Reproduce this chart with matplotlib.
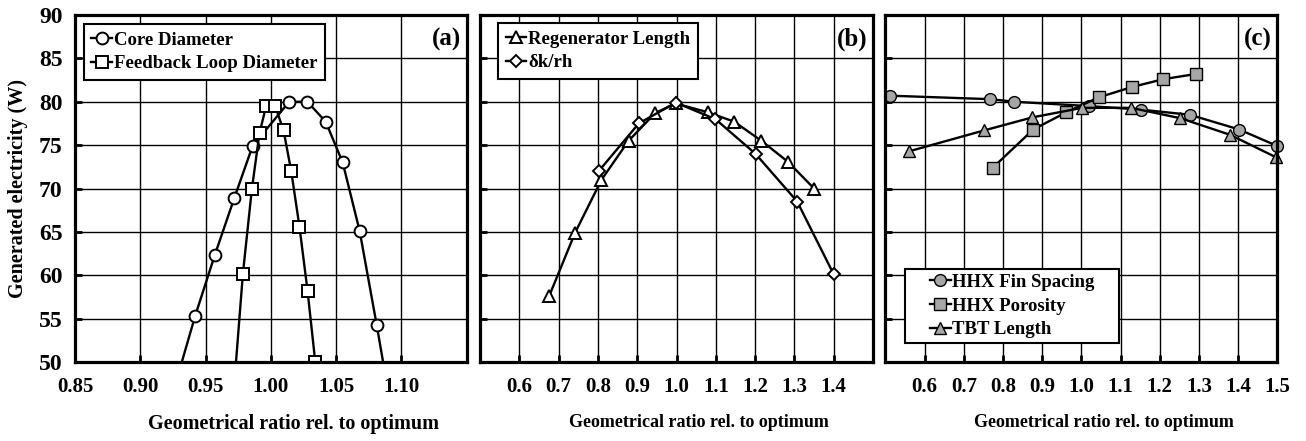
import numpy as np
import matplotlib
matplotlib.use('Agg')
import matplotlib.pyplot as plt
from matplotlib.patches import Rectangle

plt.rcParams['font.family'] = ['Liberation Serif', 'DejaVu Serif']
plt.rcParams['font.weight'] = 'bold'

# panel (a)
core_x = [0.927, 0.942, 0.957, 0.972, 0.986, 1.014, 1.028, 1.042, 1.055, 1.068, 1.081, 1.094]
core_y = [47.5, 55.3, 62.3, 68.9, 74.9, 80.0, 80.0, 77.7, 73.0, 65.1, 54.3, 43.0]
loop_x = [0.972, 0.9786, 0.9855, 0.9913, 0.9964, 1.0033, 1.0097, 1.0156, 1.0219, 1.0281, 1.034]
loop_y = [47.5, 60.2, 70.0, 76.4, 79.5, 79.5, 76.7, 72.0, 65.6, 58.2, 50.0]

# panel (b)
regen_x = [0.676, 0.742, 0.809, 0.878, 0.946, 0.998, 1.079, 1.147, 1.216, 1.283, 1.350]
regen_y = [57.6, 64.9, 71.0, 75.5, 78.7, 79.8, 78.8, 77.7, 75.5, 73.1, 70.0]
dk_x = [0.802, 0.904, 0.998, 1.099, 1.201, 1.307, 1.400]
dk_y = [72.0, 77.5, 79.9, 78.0, 74.0, 68.5, 60.1]

# panel (c)
fin_x = [0.511, 0.767, 0.829, 1.020, 1.151, 1.277, 1.403, 1.500]
fin_y = [80.7, 80.3, 80.0, 79.5, 79.1, 78.5, 76.8, 74.9]
por_x = [0.774, 0.877, 0.962, 1.044, 1.129, 1.209, 1.292]
por_y = [72.4, 76.8, 78.8, 80.5, 81.7, 82.6, 83.2]
tbt_x = [0.561, 0.752, 0.875, 1.002, 1.127, 1.253, 1.379, 1.497]
tbt_y = [74.3, 76.7, 78.2, 79.3, 79.3, 78.1, 76.2, 73.6]

xticks_a = [0.85, 0.90, 0.95, 1.00, 1.05, 1.10]
xticks_b = [0.6, 0.7, 0.8, 0.9, 1.0, 1.1, 1.2, 1.3, 1.4]
xticks_c = [0.6, 0.7, 0.8, 0.9, 1.0, 1.1, 1.2, 1.3, 1.4, 1.5]
yticks = [50, 55, 60, 65, 70, 75, 80, 85, 90]

fig = plt.figure(figsize=(13.06, 4.41), dpi=100)
bot, h = 0.179, 0.787
ax_a = fig.add_axes([0.0574, bot, 0.300, h])
ax_b = fig.add_axes([0.3675, bot, 0.301, h])
ax_c = fig.add_axes([0.678, bot, 0.300, h])

lw = 1.7
white = dict(color='black', lw=lw, mfc='white', mec='black', mew=1.4)
grey = dict(color='black', lw=lw, mfc='#a6a6a6', mec='black', mew=1.0)

ax_a.plot(core_x, core_y, marker='o', ms=8.5, label='Core Diameter', **white)
ax_a.plot(loop_x, loop_y, marker='s', ms=8.5, label='Feedback Loop Diameter', **white)

ax_b.plot(regen_x, regen_y, marker='^', ms=9, label='Regenerator Length', **white)
ax_b.plot(dk_x, dk_y, marker='D', ms=6.5, label='δk/rh', **white)

ax_c.plot(fin_x, fin_y, marker='o', ms=8.5, label='HHX Fin Spacing', clip_on=False, **grey)
ax_c.plot(por_x, por_y, marker='s', ms=8.5, label='HHX Porosity', clip_on=False, **grey)
ax_c.plot(tbt_x, tbt_y, marker='^', ms=8.5, label='TBT Length', clip_on=False, **grey)

ax_a.set_xlim(0.85, 1.15)
ax_a.set_xticks(xticks_a)
ax_a.set_xticklabels(['%.2f' % v for v in xticks_a], fontsize=15)
ax_b.set_xlim(0.5, 1.5)
ax_b.set_xticks(xticks_b)
ax_b.set_xticklabels(['%.1f' % v for v in xticks_b], fontsize=15)
ax_c.set_xlim(0.5, 1.5)
ax_c.set_xticks(xticks_c)
ax_c.set_xticklabels(['%.1f' % v for v in xticks_c], fontsize=15)

for ax, tag in zip([ax_a, ax_b, ax_c], ['(a)', '(b)', '(c)']):
    ax.set_ylim(50, 90)
    ax.set_yticks(yticks)
    ax.grid(True, color='black', lw=1.0)
    ax.set_axisbelow(True)
    for s in ax.spines.values():
        s.set_linewidth(2.3)
    ax.tick_params(direction='in', length=5, width=2, pad=11)
    ax.tick_params(axis='y', pad=9)
    ax.text(0.986, 0.93, tag, transform=ax.transAxes, ha='right', va='center',
            fontsize=18, fontweight='bold')

ax_a.set_yticklabels([str(v) for v in yticks], fontsize=17)
ax_b.set_yticklabels([])
ax_c.set_yticklabels([])
ax_a.set_ylabel('Generated electricity (W)', fontsize=14.5, fontweight='bold', labelpad=8)

ax_a.set_xlabel('Geometrical ratio rel. to optimum', fontsize=14.5, fontweight='bold')
ax_b.set_xlabel('Geometrical ratio rel. to optimum', fontsize=13, fontweight='bold')
ax_c.set_xlabel('Geometrical ratio rel. to optimum', fontsize=13, fontweight='bold')
for ax in [ax_a, ax_b, ax_c]:
    ax.xaxis.set_label_coords(0.557, -0.15)

leg_kw = dict(fancybox=False, edgecolor='black', framealpha=1, handlelength=1.1,
              handletextpad=0.1, borderpad=0.4, labelspacing=0.35, borderaxespad=0,
              prop={'weight': 'bold', 'size': 13.5})
l1 = ax_a.legend(loc='upper left', bbox_to_anchor=(0.023, 0.974), **leg_kw)
l2 = ax_b.legend(loc='upper left', bbox_to_anchor=(0.046, 0.977), **leg_kw)
for l in [l1, l2]:
    l.get_frame().set_linewidth(1.5)

# panel (c) legend has a wider box than its entries
box_c = Rectangle((0.051, 0.055), 0.546, 0.213, transform=ax_c.transAxes,
                  facecolor='white', edgecolor='black', lw=1.5, zorder=4)
ax_c.add_patch(box_c)
leg_kw_c = dict(leg_kw)
leg_kw_c['frameon'] = False
l3 = ax_c.legend(loc='center', bbox_to_anchor=(0.051 + 0.546 / 2, 0.055 + 0.213 / 2),
                 **leg_kw_c)
l3.set_zorder(5)

fig.savefig('out.png', dpi=100)
